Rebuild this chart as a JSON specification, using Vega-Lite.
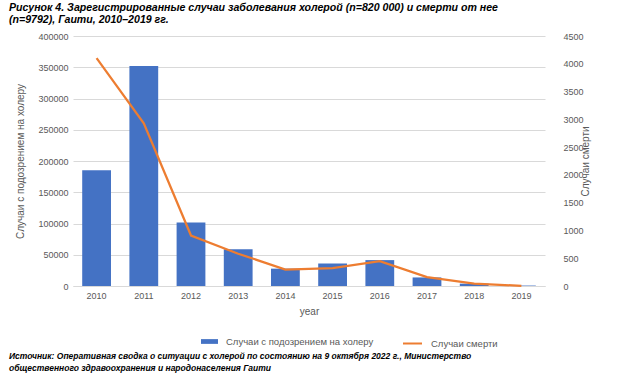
{
  "$schema": "https://vega.github.io/schema/vega-lite/v6.json",
  "background": "white",
  "padding": {"left": 8, "top": 3, "right": 5, "bottom": 5},
  "title": {
    "text": ["Рисунок 4. Зарегистрированные случаи заболевания холерой (n=820 000) и смерти от нее", "(n=9792), Гаити, 2010–2019 гг."],
    "anchor": "start",
    "font": "Liberation Sans",
    "fontSize": 10.6,
    "fontStyle": "italic",
    "fontWeight": "bold",
    "color": "black",
    "lineHeight": 12,
    "offset": 6
  },
  "config": {
    "view": {"stroke": null},
    "axis": {
      "labelFont": "Liberation Sans",
      "titleFont": "Liberation Sans",
      "labelFontSize": 9,
      "titleFontSize": 10,
      "titleFontWeight": "normal",
      "labelColor": "#595959",
      "titleColor": "#595959",
      "ticks": false,
      "domain": false
    },
    "legend": {
      "labelFont": "Liberation Sans",
      "labelFontSize": 9.5,
      "labelColor": "#595959",
      "layout": {"bottom": {"anchor": "middle", "margin": 28, "offset": 17}}
    }
  },
  "vconcat": [
    {
      "width": 472,
      "height": 250,
      "title": {
        "text": ["Источник: Оперативная сводка о ситуации с холерой по состоянию на 9 октября 2022 г., Министерство", "общественного здравоохранения и народонаселения Гаити"],
        "orient": "bottom",
        "anchor": "start",
        "font": "Liberation Sans",
        "fontSize": 8.5,
        "fontStyle": "italic",
        "fontWeight": "bold",
        "color": "black",
        "lineHeight": 12,
        "offset": 4,
        "dx": -7
      },
      "data": {
        "values": [
          {"year": "2010", "cases": 185351, "deaths": 4101},
          {"year": "2011", "cases": 352033, "deaths": 2927},
          {"year": "2012", "cases": 101503, "deaths": 908},
          {"year": "2013", "cases": 58809, "deaths": 581},
          {"year": "2014", "cases": 27753, "deaths": 297},
          {"year": "2015", "cases": 36045, "deaths": 322},
          {"year": "2016", "cases": 41421, "deaths": 447},
          {"year": "2017", "cases": 13681, "deaths": 159},
          {"year": "2018", "cases": 3777, "deaths": 41},
          {"year": "2019", "cases": 720, "deaths": 3}
        ]
      },
      "layer": [
        {
          "mark": {"type": "bar", "width": {"band": 0.61}},
          "encoding": {
            "x": {
              "field": "year",
              "type": "ordinal",
              "scale": {"paddingInner": 0, "paddingOuter": 0},
              "axis": {"labelAngle": 0, "title": "year", "domain": true, "domainColor": "#d9d9d9", "labelPadding": 5, "titlePadding": 6}
            },
            "y": {
              "field": "cases",
              "type": "quantitative",
              "scale": {"domain": [0, 400000]},
              "axis": {
                "title": "Случаи с подозрением на холеру",
                "values": [0, 50000, 100000, 150000, 200000, 250000, 300000, 350000, 400000],
                "format": "d",
                "gridColor": "#d9d9d9",
                "labelPadding": 5,
                "titlePadding": 12
              }
            },
            "color": {
              "datum": "Случаи с подозрением на холеру",
              "scale": {"range": ["#4472C4"]},
              "legend": {"orient": "bottom", "title": " ", "titleOrient": "left", "titlePadding": 80, "symbolType": "M-1,-0.28H1V0.28H-1Z", "symbolSize": 289, "symbolStrokeWidth": 0, "labelOffset": 8}
            }
          }
        },
        {
          "mark": {"type": "line", "strokeWidth": 2.25, "color": "#ED7D31"},
          "encoding": {
            "x": {"field": "year", "type": "ordinal"},
            "y": {
              "field": "deaths",
              "type": "quantitative",
              "scale": {"domain": [0, 4500]},
              "axis": {
                "orient": "right",
                "title": "Случаи смерти",
                "titleAngle": 270,
                "values": [0, 500, 1000, 1500, 2000, 2500, 3000, 3500, 4000, 4500],
                "format": "d",
                "grid": false,
                "labelPadding": 18,
                "titlePadding": 7
              }
            },
            "color": {
              "datum": "Случаи смерти",
              "scale": {"range": ["#ED7D31"]},
              "legend": {"orient": "bottom", "title": null, "symbolType": "stroke", "symbolSize": 361, "symbolStrokeWidth": 2, "labelOffset": 8}
            }
          }
        }
      ],
      "resolve": {"scale": {"y": "independent", "color": "independent"}}
    }
  ]
}
